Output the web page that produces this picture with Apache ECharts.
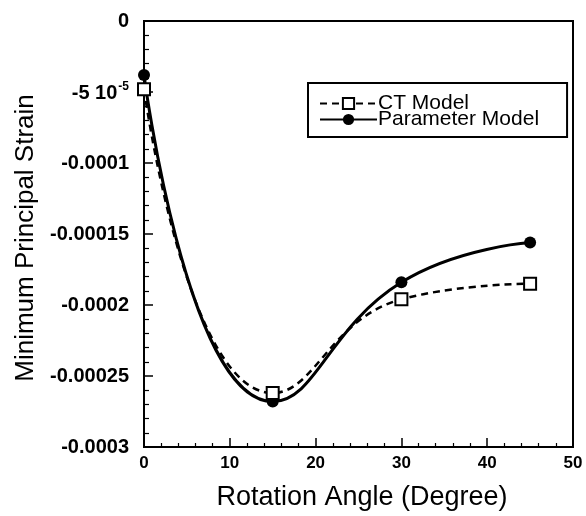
<!DOCTYPE html>
<html>
<head>
<meta charset="utf-8">
<script src="https://cdn.jsdelivr.net/npm/echarts@6/dist/echarts.min.js"></script>
<style>
  html, body { margin: 0; padding: 0; background: #fff; }
  #chart { width: 586px; height: 516px; }
</style>
</head>
<body>
<div id="chart"></div>
<script>
// rotation angle (degree)
const angles = [0, 15, 30, 45];
// minimum principal strain values
const ctModel = [-0.000048, -0.000262, -0.000196, -0.000185];
const paramModel = [-0.000038, -0.000268, -0.000184, -0.000156];
// y tick labels, top to bottom
const yTickLabels = ['0', '-5 10', '-0.0001', '-0.00015', '-0.0002', '-0.00025', '-0.0003'];
const xTickLabels = ['0', '10', '20', '30', '40', '50'];

const font = '"Liberation Sans", Arial, Helvetica, sans-serif';

function pairs(xs, ys) {
  return xs.map((x, i) => [x, ys[i]]);
}

const chart = echarts.init(document.getElementById('chart'));

const option = {
  animation: false,
  backgroundColor: '#fff',
  textStyle: { fontFamily: font, color: '#000' },
  grid: {
    left: 144, right: 13, top: 21, bottom: 69,
    show: true, borderColor: '#000', borderWidth: 2, backgroundColor: 'transparent'
  },
  legend: {
    orient: 'vertical',
    left: 308, top: 83,
    padding: [10, 28, 7, 11],
    itemGap: -5,
    itemWidth: 57, itemHeight: 14,
    borderColor: '#000', borderWidth: 2,
    backgroundColor: '#fff',
    textStyle: { fontFamily: font, fontSize: 21, color: '#000', lineHeight: 15, padding: [0, 0, 0, -4] },
    data: ['CT Model', 'Parameter Model']
  },
  xAxis: {
    type: 'value', min: 0, max: 50, interval: 10,
    name: 'Rotation Angle (Degree)',
    nameLocation: 'middle', nameGap: 37,
    nameTextStyle: { fontFamily: font, fontSize: 27, color: '#000', padding: [0, 0, 0, 7] },
    axisLine: { show: true, onZero: false, lineStyle: { color: '#000', width: 2 } },
    axisTick: { show: true, inside: true, length: 9, lineStyle: { color: '#000', width: 1.5 } },
    minorTick: { show: true, splitNumber: 5, length: 4, lineStyle: { color: '#000', width: 1.2 } },
    splitLine: { show: false },
    axisLabel: {
      margin: 8, fontFamily: font, fontSize: 17, fontWeight: 'bold', color: '#000',
      formatter: v => xTickLabels[Math.round(v / 10)]
    }
  },
  yAxis: {
    type: 'value', min: -0.0003, max: 0, interval: 0.00005,
    name: 'Minimum Principal Strain',
    nameLocation: 'middle', nameGap: 105, nameRotate: 90,
    nameTextStyle: { fontFamily: font, fontSize: 26, color: '#000', padding: [0, 8, 0, 0] },
    axisLine: { show: true, onZero: false, lineStyle: { color: '#000', width: 2 } },
    axisTick: { show: true, inside: true, length: 9, lineStyle: { color: '#000', width: 1.5 } },
    minorTick: { show: true, splitNumber: 5, length: 5, lineStyle: { color: '#000', width: 1.2 } },
    splitLine: { show: false },
    axisLabel: {
      margin: 15, fontFamily: font, fontSize: 20, fontWeight: 'bold', color: '#000',
      formatter: function (v) {
        const i = Math.round(-v / 0.00005);
        if (i === 1) return '{b|' + yTickLabels[i] + '}{sup|-5}';
        return yTickLabels[i];
      },
      rich: {
        b: { fontFamily: font, fontSize: 20, fontWeight: 'bold', color: '#000', verticalAlign: 'bottom' },
        sup: { fontFamily: font, fontSize: 12, fontWeight: 'bold', color: '#000', verticalAlign: 'bottom', padding: [0, 0, 10, 1] }
      }
    }
  },
  series: [
    {
      name: 'CT Model',
      type: 'line',
      smooth: 0.5,
      data: pairs(angles, ctModel),
      symbol: 'rect', symbolSize: 12,
      itemStyle: { color: '#fff', borderColor: '#000', borderWidth: 2 },
      lineStyle: { color: '#000', width: 2.5, type: [7, 5] },
      z: 3
    },
    {
      name: 'Parameter Model',
      type: 'line',
      smooth: 0.5,
      data: pairs(angles, paramModel),
      symbol: 'circle', symbolSize: 12,
      itemStyle: { color: '#000', borderColor: '#000', borderWidth: 0 },
      lineStyle: { color: '#000', width: 3 },
      z: 2
    }
  ]
};

chart.setOption(option);
</script>
</body>
</html>
